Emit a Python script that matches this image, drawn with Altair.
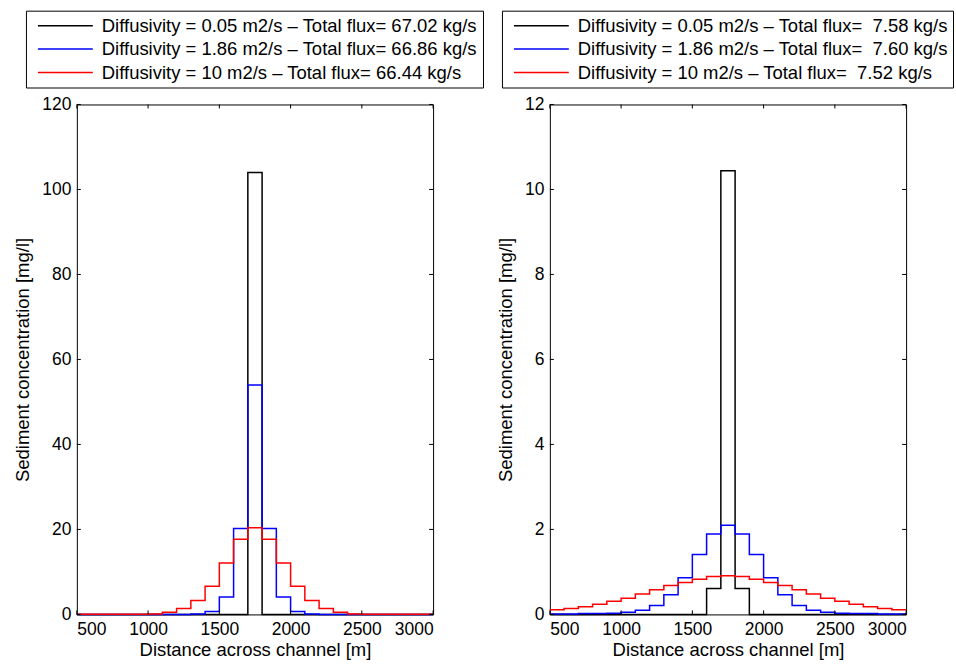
import altair as alt
import pandas as pd

# ---- data ----
bin_edges = [500, 600, 700, 800, 900, 1000, 1100, 1200, 1300, 1400, 1500, 1600, 1700,
             1800, 1900, 2000, 2100, 2200, 2300, 2400, 2500, 2600, 2700, 2800, 2900, 3000]

left_black = [0, 0, 0, 0, 0, 0, 0, 0, 0, 0, 0, 0, 104.0, 0, 0, 0, 0, 0, 0, 0, 0, 0, 0, 0, 0]
left_blue = [0, 0, 0, 0, 0, 0, 0, 0, 0.1, 0.7, 4.1, 20.2, 54.0, 20.2, 4.1, 0.7, 0.1,
             0, 0, 0, 0, 0, 0, 0, 0]
left_red = [0.02, 0.02, 0.02, 0.02, 0.03, 0.1, 0.5, 1.4, 3.3, 6.6, 12.1, 17.7, 20.4,
            17.7, 12.1, 6.6, 3.3, 1.4, 0.5, 0.1, 0.03, 0.02, 0.02, 0.02, 0.02]

right_black = [0, 0, 0, 0, 0, 0, 0, 0, 0, 0, 0, 0.61, 10.44, 0.61, 0, 0, 0, 0, 0, 0, 0, 0, 0, 0, 0]
right_blue = [0.01, 0.01, 0.02, 0.02, 0.03, 0.05, 0.10, 0.21, 0.46, 0.86, 1.41, 1.89, 2.10,
              1.89, 1.41, 0.86, 0.46, 0.21, 0.10, 0.05, 0.03, 0.02, 0.02, 0.01, 0.01]
right_red = [0.11, 0.14, 0.18, 0.24, 0.31, 0.38, 0.48, 0.58, 0.68, 0.75, 0.83, 0.89, 0.91,
             0.89, 0.83, 0.75, 0.68, 0.58, 0.48, 0.38, 0.31, 0.24, 0.18, 0.14, 0.11]

left_labels = [
    "Diffusivity = 0.05 m2/s \u2013 Total flux= 67.02 kg/s",
    "Diffusivity = 1.86 m2/s \u2013 Total flux= 66.86 kg/s",
    "Diffusivity = 10 m2/s \u2013 Total flux= 66.44 kg/s",
]
right_labels = [
    "Diffusivity = 0.05 m2/s \u2013 Total flux=\u00a0 7.58 kg/s",
    "Diffusivity = 1.86 m2/s \u2013 Total flux=\u00a0 7.60 kg/s",
    "Diffusivity = 10 m2/s \u2013 Total flux=\u00a0 7.52 kg/s",
]
series_colors = ["#000000", "#0000ff", "#ff0000"]

x_ticks = [500, 1000, 1500, 2000, 2500, 3000]
left_y_ticks = [0, 20, 40, 60, 80, 100, 120]
right_y_ticks = [0, 2, 4, 6, 8, 10, 12]

x_title = "Distance across channel [m]"
y_title = "Sediment concentration [mg/l]"

W, H = 357, 511
FONT = "Liberation Sans"
TICK = 4


def stair_rows(series_list, labels):
    rows = []
    k = 0
    for vals, lab in zip(series_list, labels):
        for i, v in enumerate(vals):
            rows.append({"x": bin_edges[i], "y": v, "series": lab, "idx": k}); k += 1
            rows.append({"x": bin_edges[i + 1], "y": v, "series": lab, "idx": k}); k += 1
    return pd.DataFrame(rows)


def panel(series_list, labels, ymax, yticks, legend_x, legend_y):
    df = stair_rows(series_list, labels)
    x_enc = alt.X("x:Q", scale=alt.Scale(domain=[500, 3000], nice=False, zero=False),
                  axis=alt.Axis(values=x_ticks, title=x_title, ticks=False, domain=False,
                                grid=False, labelPadding=6, titlePadding=3, format="d"))
    y_enc = alt.Y("y:Q", scale=alt.Scale(domain=[0, ymax], nice=False, zero=True),
                  axis=alt.Axis(values=yticks, title=y_title, ticks=False, domain=False,
                                grid=False, labelPadding=6, titlePadding=9, format="d"))
    color = alt.Color("series:N", sort=labels,
                      scale=alt.Scale(domain=labels, range=series_colors),
                      legend=alt.Legend(orient="none", legendX=legend_x, legendY=legend_y,
                                        direction="vertical", title=None,
                                        symbolType="stroke", symbolSize=3025,
                                        symbolStrokeWidth=1.5, symbolOffset=6,
                                        labelFont=FONT, labelFontSize=18.5,
                                        labelColor="black", labelOffset=8,
                                        labelLimit=800, padding=5, clipHeight=20,
                                        rowPadding=3.5, strokeColor="black",
                                        fillColor="white", cornerRadius=0))
    lines = alt.Chart(df).mark_line(strokeWidth=1.5, clip=False).encode(
        x=x_enc, y=y_enc, color=color, order=alt.Order("idx:Q"))

    xt = pd.DataFrame({"x": x_ticks})
    yt = pd.DataFrame({"y": yticks})
    bottom = alt.Chart(xt).mark_rule(color="black", strokeWidth=1).encode(
        x=x_enc, y=alt.value(H), y2=alt.value(H - TICK))
    top = alt.Chart(xt).mark_rule(color="black", strokeWidth=1).encode(
        x=x_enc, y=alt.value(0), y2=alt.value(TICK))
    left = alt.Chart(yt).mark_rule(color="black", strokeWidth=1).encode(
        y=y_enc, x=alt.value(0), x2=alt.value(TICK))
    right = alt.Chart(yt).mark_rule(color="black", strokeWidth=1).encode(
        y=y_enc, x=alt.value(W), x2=alt.value(W - TICK))
    return alt.layer(lines, bottom, top, left, right).properties(width=W, height=H)


left_panel = panel([left_black, left_blue, left_red], left_labels, 120, left_y_ticks, -51, -94)
right_panel = panel([right_black, right_blue, right_red], right_labels, 12, right_y_ticks, -48, -94)

chart = (
    alt.hconcat(left_panel, right_panel, spacing=117, bounds="flush")
    .resolve_scale(color="independent")
    .resolve_legend(color="independent")
    .properties(padding={"left": 13, "top": 9, "right": 2, "bottom": 5}, background="white")
    .configure(font=FONT)
    .configure_view(stroke="black", strokeWidth=1)
    .configure_axis(labelFont=FONT, labelFontSize=17.5, labelColor="black",
                    titleFont=FONT, titleFontSize=18.5, titleColor="black",
                    titleFontWeight="normal")
)

chart.save("out.html", embed_options={"renderer": "svg", "actions": False})
